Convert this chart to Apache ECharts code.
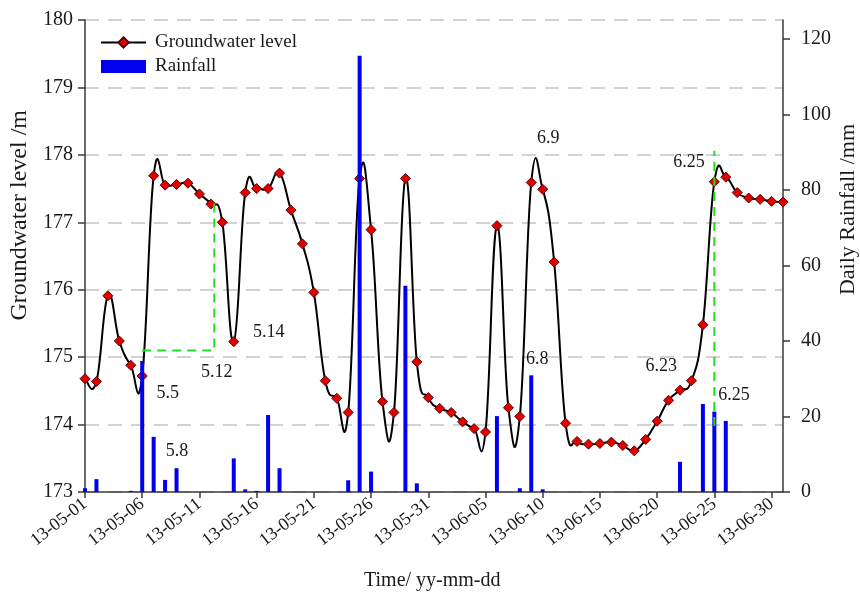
<!DOCTYPE html>
<html>
<head>
<meta charset="utf-8">
<script src="https://cdn.jsdelivr.net/npm/echarts@6/dist/echarts.min.js"></script>
<style>
  html, body { margin: 0; padding: 0; background: #fff; }
  #chart { width: 860px; height: 600px; }
</style>
</head>
<body>
<div id="chart"></div>
<script>
// Daily observations, 2013-05-01 .. 2013-07-01 (index 0 = 2013-05-01)
const startDate = [2013, 4, 1];

// Groundwater level (m), one value per day
const groundwaterLevel = [
  174.68, 174.64, 175.91, 175.24, 174.88, 174.72, 177.69, 177.55, 177.56, 177.58,
  177.42, 177.27, 177.00, 175.23, 177.44, 177.50, 177.50, 177.73, 177.18, 176.68,
  175.96, 174.65, 174.39, 174.18, 177.65, 176.89, 174.34, 174.18, 177.65, 174.93,
  174.40, 174.24, 174.18, 174.04, 173.94, 173.89, 176.95, 174.25, 174.12, 177.59,
  177.49, 176.41, 174.02, 173.75, 173.71, 173.72, 173.74, 173.69, 173.61, 173.78,
  174.05, 174.36, 174.51, 174.65, 175.48, 177.60, 177.67, 177.44, 177.36, 177.34,
  177.31, 177.30
];

// Daily rainfall (mm): day index and amount
const rainfallDays = [0, 1, 4, 5, 6, 7, 8, 13, 14, 15, 16, 17, 23, 24, 25, 28, 29, 36, 38, 39, 40, 52, 54, 55, 56];
const rainfallMm   = [1.0, 3.4, 0.3, 34.7, 14.6, 3.2, 6.3, 8.9, 0.7, 0.3, 20.4, 6.3, 3.1, 115.5, 5.4, 54.6, 2.3, 20.1, 1.0, 30.9, 0.7, 8.0, 23.3, 21.3, 18.8];

// Tick positions
const dateTicks = [0, 5, 10, 15, 20, 25, 30, 35, 40, 45, 50, 55, 60];
const rainTicks = [0, 20, 40, 60, 80, 100, 120];

// Guide lines (day index, level)
const guideMay = [[5, 175.1], [11.3, 175.1], [11.3, 177.33]];
const guideJune = [[55, 173.98], [55, 178.06]];

// Event date notes (text, day index, level)
const noteText  = ['5.5', '5.8', '5.12', '5.14', '6.9', '6.8', '6.23', '6.25', '6.25'];
const noteDay   = [7.24, 8.03, 11.52, 16.06, 40.49, 39.53, 50.35, 56.72, 52.79];
const noteLevel = [174.47, 173.60, 174.78, 175.37, 178.25, 174.97, 174.87, 174.43, 177.89];

const FONT = '"Liberation Serif", "Times New Roman", serif';
const INK = '#1a1a1a';
const AXIS = '#3a3a3a';

function dayLabel(i) {
  const d = new Date(startDate[0], startDate[1], startDate[2] + i);
  const mm = String(d.getMonth() + 1).padStart(2, '0');
  const dd = String(d.getDate()).padStart(2, '0');
  return String(d.getFullYear()).slice(2) + '-' + mm + '-' + dd;
}

const levelData = groundwaterLevel.map((v, i) => [i, v]);
const rainData = rainfallDays.map((d, i) => [d, rainfallMm[i]]);
const noteData = noteText.map((t, i) => ({ name: t, value: [noteDay[i], noteLevel[i]] }));

// Cardinal spline segment between day i and i+1, drawn in pixel space
const TENSION = 0.22;
function renderSplineSegment(params, api) {
  const n = groundwaterLevel.length;
  const i = params.dataIndex;
  if (i >= n - 1) return null;
  const pt = k => {
    const j = Math.max(0, Math.min(n - 1, k));
    return api.coord([j, groundwaterLevel[j]]);
  };
  const p0 = pt(i - 1), p1 = pt(i), p2 = pt(i + 1), p3 = pt(i + 2);
  return {
    type: 'bezierCurve',
    shape: {
      x1: p1[0], y1: p1[1],
      x2: p2[0], y2: p2[1],
      cpx1: p1[0] + (p2[0] - p0[0]) * TENSION,
      cpy1: p1[1] + (p2[1] - p0[1]) * TENSION,
      cpx2: p2[0] - (p3[0] - p1[0]) * TENSION,
      cpy2: p2[1] - (p3[1] - p1[1]) * TENSION
    },
    style: { stroke: '#000', lineWidth: 2, fill: null }
  };
}

const chart = echarts.init(document.getElementById('chart'), null, { renderer: 'canvas' });

chart.setOption({
  animation: false,
  backgroundColor: '#fff',
  textStyle: { fontFamily: FONT, color: INK },
  grid: { left: 85, right: 77, top: 20, bottom: 108, containLabel: false },
  legend: {
    orient: 'vertical',
    left: 95,
    top: 28,
    itemWidth: 45,
    itemHeight: 13,
    itemGap: 5,
    textStyle: { fontFamily: FONT, fontSize: 19, color: INK, padding: [0, 0, 0, 4] },
    data: [
      { name: 'Groundwater level', lineStyle: { opacity: 1, color: '#000', width: 2 } },
      { name: 'Rainfall', icon: 'rect' }
    ]
  },
  xAxis: {
    type: 'value',
    min: 0,
    max: 61,
    interval: 5,
    axisLine: { show: true, lineStyle: { color: AXIS, width: 1.5 } },
    axisTick: { show: true, length: 6, lineStyle: { color: AXIS, width: 1.5 }, customValues: dateTicks },
    axisLabel: {
      customValues: dateTicks,
      rotate: 38,
      margin: 10,
      fontFamily: FONT,
      fontSize: 18,
      color: INK,
      formatter: v => dayLabel(v)
    },
    splitLine: { show: false }
  },
  yAxis: [
    {
      type: 'value',
      min: 173,
      max: 180,
      interval: 1,
      axisLine: { show: true, lineStyle: { color: AXIS, width: 1.5 } },
      axisTick: { show: true, length: 7, lineStyle: { color: AXIS, width: 1.5 } },
      axisLabel: { margin: 12, fontFamily: FONT, fontSize: 20, color: INK },
      splitLine: { show: true, lineStyle: { color: '#c4c4c4', width: 1.5, type: [14, 9] } }
    },
    {
      type: 'value',
      position: 'right',
      min: 0,
      max: 125,
      interval: 20,
      axisLine: { show: true, lineStyle: { color: AXIS, width: 1.5 } },
      axisTick: { show: true, length: 7, lineStyle: { color: AXIS, width: 1.5 }, customValues: rainTicks },
      axisLabel: { customValues: rainTicks, margin: 18, fontFamily: FONT, fontSize: 20, color: INK },
      splitLine: { show: false }
    }
  ],
  graphic: [
    {
      type: 'text', left: 8, top: 110, rotation: Math.PI / 2,
      style: { text: 'Groundwater level /m', font: '24px ' + FONT, fill: INK }
    },
    {
      type: 'text', left: 837, top: 124, rotation: Math.PI / 2,
      style: { text: 'Daily Rainfall /mm', font: '22px ' + FONT, fill: INK }
    },
    {
      type: 'text', left: 364, top: 571,
      style: { text: 'Time/ yy-mm-dd', font: '20px ' + FONT, fill: INK }
    }
  ],
  series: [
    {
      name: 'level-curve',
      type: 'custom',
      yAxisIndex: 0,
      data: levelData,
      encode: { x: 0, y: 1 },
      renderItem: renderSplineSegment,
      silent: true,
      z: 2
    },
    {
      name: 'Groundwater level',
      type: 'line',
      yAxisIndex: 0,
      data: levelData,
      symbol: 'diamond',
      symbolSize: 10,
      lineStyle: { color: '#000', width: 2, opacity: 0 },
      itemStyle: { color: '#e00000', borderColor: '#5a0000', borderWidth: 1 },
      z: 3
    },
    {
      name: 'Rainfall',
      type: 'bar',
      yAxisIndex: 1,
      data: rainData,
      barWidth: 4,
      itemStyle: { color: '#0000ee' },
      z: 4
    },
    {
      name: 'guide-may',
      type: 'line',
      yAxisIndex: 0,
      data: guideMay,
      symbol: 'none',
      lineStyle: { color: '#22dd22', width: 2, type: [9, 6] },
      z: 5
    },
    {
      name: 'guide-june',
      type: 'line',
      yAxisIndex: 0,
      data: guideJune,
      symbol: 'none',
      lineStyle: { color: '#22dd22', width: 2, type: [9, 6] },
      z: 5
    },
    {
      name: 'notes',
      type: 'scatter',
      yAxisIndex: 0,
      data: noteData,
      symbolSize: 0,
      silent: true,
      itemStyle: { opacity: 1 },
      label: {
        show: true,
        position: 'inside',
        formatter: p => p.name,
        fontFamily: FONT,
        fontSize: 18,
        color: INK
      },
      z: 6
    }
  ]
});
</script>
</body>
</html>
